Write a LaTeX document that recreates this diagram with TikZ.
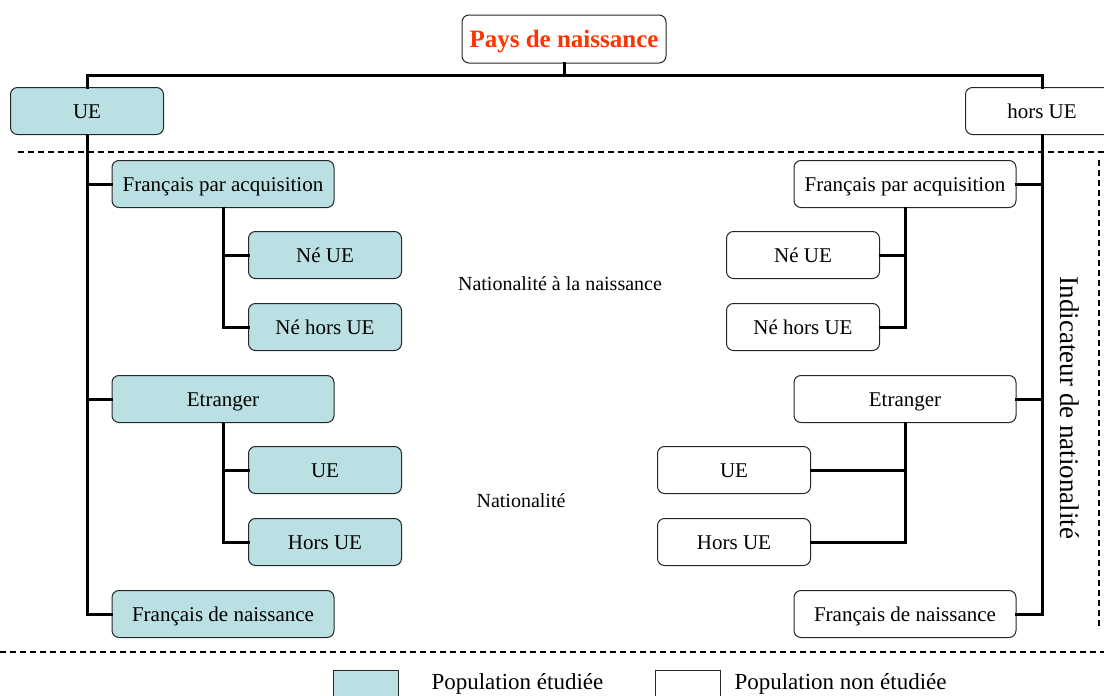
\documentclass[tikz,border=0pt]{standalone}
\usepackage{fontspec}
\setmainfont{Liberation Serif}
\definecolor{studied}{RGB}{187,224,227}
\definecolor{titlered}{RGB}{255,51,0}
\begin{document}
\begin{tikzpicture}[x=1pt,y=-1pt,
  box/.style={draw=black!85, line width=1pt, rounded corners=7pt, minimum height=47pt, inner sep=0pt, text height=14pt, text depth=0pt, font=\fontsize{21}{24}\selectfont},
  wide/.style={box, minimum width=222pt},
  narrow/.style={box, minimum width=153pt},
  tbox/.style={fill=studied},
  wbox/.style={fill=white},
  conn/.style={line width=3pt, line cap=rect},
  sep/.style={line width=1.4pt, dash pattern=on 6pt off 4pt},
  lbl/.style={font=\fontsize{20}{24}\selectfont}]
\useasboundingbox (0,0) rectangle (1104,696);

% top
\node[box, wbox, minimum width=204pt, minimum height=48pt, text height=16pt, font=\fontsize{25}{28}\selectfont\bfseries, text=titlered] (title) at (564,39) {Pays de naissance};
\node[narrow, tbox] (ue) at (87,111) {UE};
\node[narrow, wbox] (hue) at (1042,111) {hors UE};
\coordinate (bus) at (564,75);

% left column
\node[wide, tbox] (lfpa) at (223,184) {Français par acquisition};
\node[narrow, tbox] (lnue) at (325,255) {Né UE};
\node[narrow, tbox] (lnhue) at (325,327) {Né hors UE};
\node[wide, tbox] (letr) at (223,399) {Etranger};
\node[narrow, tbox] (lue) at (325,470) {UE};
\node[narrow, tbox] (lhue) at (325,542) {Hors UE};
\node[wide, tbox] (lfn) at (223,614) {Français de naissance};

% right column
\node[wide, wbox] (rfpa) at (905,184) {Français par acquisition};
\node[narrow, wbox] (rnue) at (803,255) {Né UE};
\node[narrow, wbox] (rnhue) at (803,327) {Né hors UE};
\node[wide, wbox] (retr) at (905,399) {Etranger};
\node[narrow, wbox] (rue) at (734,470) {UE};
\node[narrow, wbox] (rhue) at (734,542) {Hors UE};
\node[wide, wbox] (rfn) at (905,614) {Français de naissance};

% middle labels
\node[lbl] (lab1) at (560,284) {Nationalité à la naissance};
\node[lbl] (lab2) at (521,501) {Nationalité};

% vertical label
\node[font=\fontsize{27}{30}\selectfont, rotate=-90] (ind) at (1070,408) {Indicateur de nationalité};

% connectors
\draw[conn] (title.south) -- (bus);
\draw[conn] (bus) -| (ue.north);
\draw[conn] (bus) -| (hue.north);

\draw[conn] (ue.south) |- (lfn.west);
\draw[conn] (ue.south |- lfpa.west) -- (lfpa.west);
\draw[conn] (ue.south |- letr.west) -- (letr.west);
\draw[conn] (lfpa.south) |- (lnhue.west);
\draw[conn] (lfpa.south |- lnue.west) -- (lnue.west);
\draw[conn] (letr.south) |- (lhue.west);
\draw[conn] (letr.south |- lue.west) -- (lue.west);

\draw[conn] (hue.south) |- (rfn.east);
\draw[conn] (hue.south |- rfpa.east) -- (rfpa.east);
\draw[conn] (hue.south |- retr.east) -- (retr.east);
\draw[conn] (rfpa.south) |- (rnhue.east);
\draw[conn] (rfpa.south |- rnue.east) -- (rnue.east);
\draw[conn] (retr.south) |- (rhue.east);
\draw[conn] (retr.south |- rue.east) -- (rue.east);

% dashed separators
\draw[sep] (18,152) -- (1104,152);
\draw[sep] (1099,160) -- (1099,627);
\draw[sep] (0,652) -- (1104,652);

% legend
\node[draw=black!85, line width=1pt, fill=studied, minimum width=65pt, minimum height=34pt, inner sep=0pt] (leg1) at (365.5,687) {};
\node[draw=black!85, line width=1pt, fill=white, minimum width=65pt, minimum height=34pt, inner sep=0pt] (leg2) at (687.5,687) {};
\node[font=\fontsize{23}{26}\selectfont, anchor=west] (legt1) at (428,684) {Population étudiée};
\node[font=\fontsize{23}{26}\selectfont, anchor=west] (legt2) at (731,684) {Population non étudiée};
\end{tikzpicture}
\end{document}
